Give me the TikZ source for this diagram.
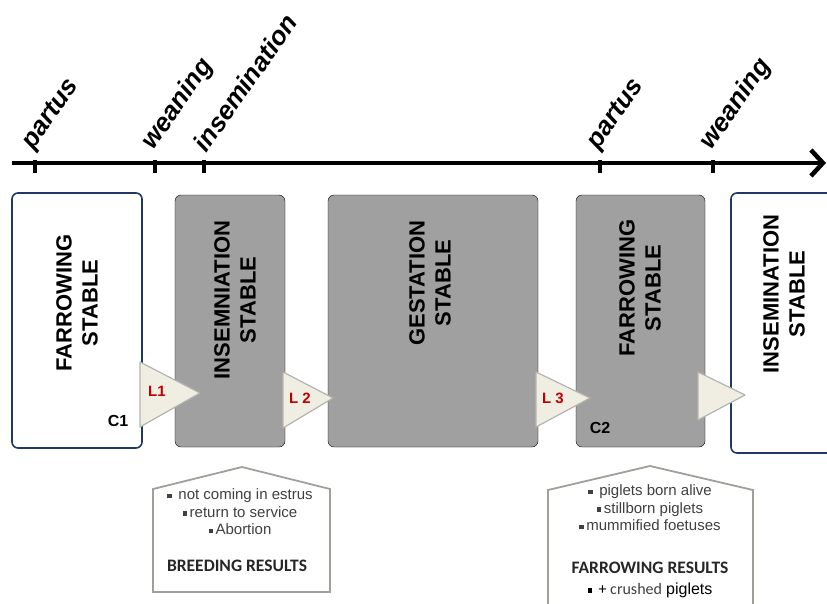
\documentclass[tikz,border=0pt]{standalone}
\usepackage{fontspec}
\setmainfont{Liberation Sans}
\newfontfamily\calibriFont{Carlito}
\usetikzlibrary{arrows.meta}
\definecolor{frameColor}{RGB}{31,56,100}
\definecolor{stableGray}{RGB}{160,160,160}
\definecolor{triangleFill}{RGB}{240,238,226}
\definecolor{triangleLine}{RGB}{180,180,175}
\definecolor{lossRed}{RGB}{192,0,0}
\definecolor{houseLine}{RGB}{160,160,155}
\definecolor{bulletGray}{RGB}{64,64,64}
\tikzstyle{canvas} = [x = 1pt, y = -1pt]
\tikzstyle{timeLine} = [line width=4.5pt, -{Straight Barb[length=12pt, width=26pt]}]
\tikzstyle{tickLine} = [line width=4pt]
\tikzstyle{eventText} = [rotate=55, anchor=south west, inner sep=0pt, font=\fontsize{26}{26}\selectfont\bfseries\itshape]
\tikzstyle{openStable} = [draw=frameColor, fill=white, line width=1.6pt, rounded corners=6pt]
\tikzstyle{closedStable} = [fill=stableGray, rounded corners=6pt]
\tikzstyle{stableText} = [rotate=90, align=center, font=\fontsize{22}{26}\selectfont\bfseries]
\tikzstyle{moveArrow} = [fill=triangleFill, draw=triangleLine, line width=1.2pt, line join=round]
\tikzstyle{lossText} = [text=lossRed, font=\fontsize{15}{15}\selectfont\bfseries]
\tikzstyle{cycleText} = [font=\fontsize{16}{16}\selectfont\bfseries]
\tikzstyle{houseStyle} = [fill=white, draw=houseLine, line width=1.8pt]
\tikzstyle{houseText} = [align=center, text=bulletGray, inner sep=0pt, font=\fontsize{15}{17.5}\selectfont]
\tikzstyle{resultText} = [text=black!85, inner sep=0pt, font=\calibriFont\fontsize{17.5}{17.5}\selectfont\bfseries]
\newcommand{\sqBullet}{\raisebox{.2ex}{\rule{.3em}{.3em}}\,}
\newcommand{\eventTick}[3]{
  \draw [tickLine] (#1, 160) -- (#1, 173);
  \node [eventText] (#2) at (#1 + 3, 154) {#3};
}
\newcommand{\stableBox}[5]{\filldraw [#1] (#2, #3) rectangle (#4, #5);}
\newcommand{\moveTriangle}[5]{\filldraw [moveArrow] (#1, #2) -- (#4, #5) -- (#1, #3) -- cycle;}
\newcommand{\resultHouse}[6]{\filldraw [houseStyle] (#1, #6) -- (#1, #3) -- (#4, #5) -- (#2, #3) -- (#2, #6) -- cycle;}

\begin{document}
\begin{tikzpicture}[canvas]
  \useasboundingbox (0, 0) rectangle (827, 603);
  \clip (0, 0) rectangle (827, 603);

  \coordinate (timeStart) at (12, 163);
  \coordinate (timeEnd) at (826, 163);
  \draw [timeLine] (timeStart) -- (timeEnd);
  \eventTick{35}{partusOne}{partus}
  \eventTick{155}{weaningOne}{weaning}
  \eventTick{204}{insemination}{insemination}
  \eventTick{600}{partusTwo}{partus}
  \eventTick{713}{weaningTwo}{weaning}

  \stableBox{openStable}{12}{193}{142}{448}
  \stableBox{closedStable}{175}{195}{285}{447}
  \stableBox{closedStable}{328}{195}{538}{447}
  \stableBox{closedStable}{576}{195}{705}{447}
  \stableBox{openStable}{731}{193}{850}{453}

  \node [stableText] (farrowOne) at (77, 303) {FARROWING\\STABLE};
  \node [stableText] (insemOne) at (235, 300) {INSEMNIATION\\STABLE};
  \node [stableText] (gestation) at (430, 283) {GESTATION\\STABLE};
  \node [stableText] (farrowTwo) at (640, 288) {FARROWING\\STABLE};
  \node [stableText] (insemTwo) at (784, 294) {INSEMINATION\\STABLE};
  \node [cycleText] (cycleOne) at (118, 421) {C1};
  \node [cycleText] (cycleTwo) at (600, 428) {C2};

  \moveTriangle{140}{362}{427}{200}{393}
  \moveTriangle{283}{372}{428}{333}{398}
  \moveTriangle{536}{372}{427}{590}{398}
  \moveTriangle{698}{372}{420}{745}{395}
  \node [lossText] (lossOne) at (157, 391) {L1};
  \node [lossText] (lossTwo) at (300, 398) {L 2};
  \node [lossText] (lossThree) at (553, 398) {L 3};

  \resultHouse{153}{330}{489}{242}{467}{592}
  \resultHouse{548}{753}{490}{650}{466}{640}
  \node [houseText] (breedingList) at (240, 512) {\sqBullet\ not coming in estrus\\\sqBullet return to service\\\sqBullet Abortion};
  \node [resultText] (breedingResults) at (237, 566) {BREEDING RESULTS};
  \node [houseText] (farrowingList) at (650, 508) {\sqBullet\ piglets born alive\\\sqBullet stillborn piglets\\\sqBullet mummified foetuses};
  \node [resultText] (farrowingResults) at (650, 568) {FARROWING RESULTS};
  \node [houseText, text=black] (crushedPiglets) at (650, 590) {{\calibriFont\fontsize{16}{16}\selectfont\sqBullet\ + \textcolor{bulletGray}{crushed}} {\fontsize{16}{16}\selectfont piglets}};
\end{tikzpicture}
\end{document}
